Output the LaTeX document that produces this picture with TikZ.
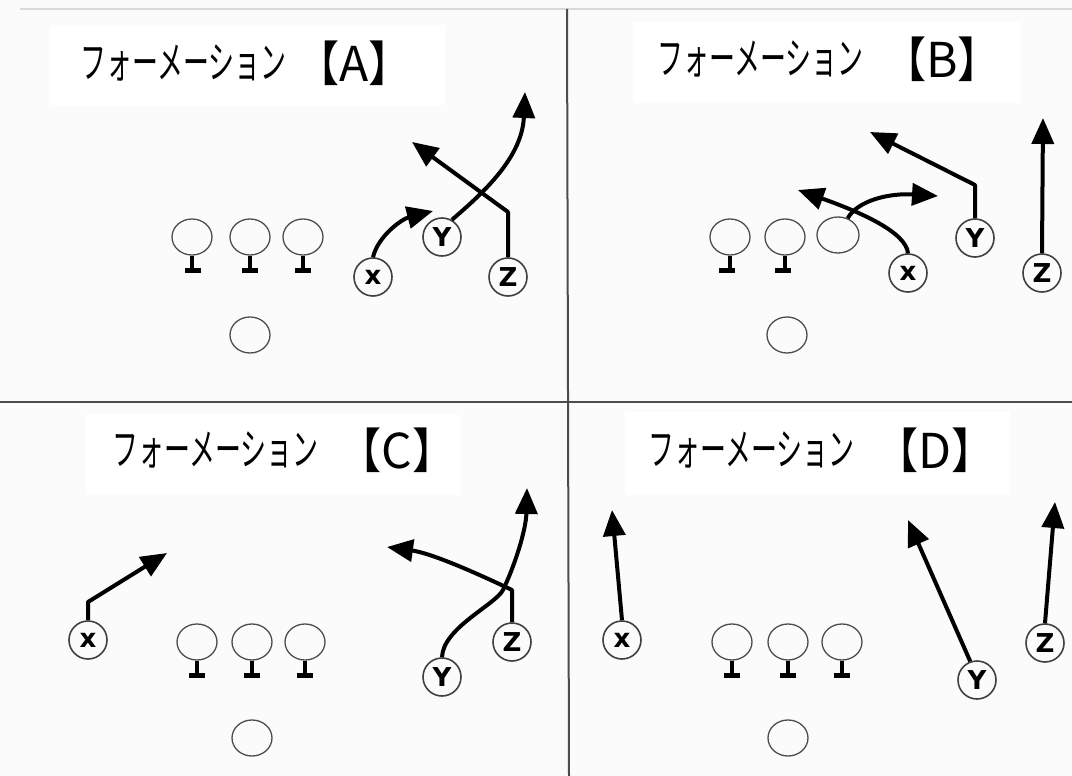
\documentclass[tikz,border=0pt]{standalone}
\usepackage{fontspec}
\newfontfamily\jp{Noto Sans CJK JP}
\newfontfamily\pl{DejaVu Sans}
\usetikzlibrary{arrows.meta,shapes.geometric,calc}
\newcommand\olstem[2]{%
  \draw[stem] (#1.south) -- ++(0,15) coordinate (#1-s);
  \draw[bar] ($(#1-s)+(-8+#2,0)$) -- ++(16,0);}
\newcommand\brtext[1]{\scalebox{0.9}[1]{【}#1\scalebox{0.9}[1]{】}}
\begin{document}
\begin{tikzpicture}[x=1pt,y=-1pt,
  player/.style={circle,draw=black!75,line width=1.6pt,minimum size=38pt,inner sep=0pt,
    font=\pl\bfseries\fontsize{26}{26}\selectfont},
  lman/.style={ellipse,draw=black!70,line width=1.3pt,minimum width=40pt,minimum height=36pt,inner sep=0pt},
  route/.style={line width=4pt,line join=round,-{Triangle[length=26pt,width=22pt]}},
  stem/.style={line width=3.5pt},
  bar/.style={line width=5pt},
  divider/.style={draw=black!70,line width=2pt},
  kana/.style={anchor=west,inner sep=0pt,font=\jp\fontsize{44}{44}\selectfont},
  brk/.style={anchor=west,inner sep=0pt,font=\jp\fontsize{48}{48}\selectfont},
  titlebox/.style={fill=white,draw=none}
]
\useasboundingbox (0,0) rectangle (1072,776);
\fill[black!1.5] (0,0) rectangle (1072,776);
\draw[black!15,line width=1.5pt] (20,9) -- (1072,9);
% title boxes
\fill[titlebox] (50,25) rectangle (445,105);
\fill[titlebox] (633,22) rectangle (1020,103);
\fill[titlebox] (85,415) rectangle (460,495);
\fill[titlebox] (625,412) rectangle (1010,495);
% dividers
\draw[divider] (567,9) -- (569,776);
\draw[divider] (0,402) -- (1072,402);
% titles
\node[kana] (ta) at (80,63) {\scalebox{0.59}[1]{フォーメーション}};
\node[brk] (tab) at (296,63) {\brtext{A}};
\node[kana] (tb) at (657,59) {\scalebox{0.59}[1]{フォーメーション}};
\node[brk] (tbb) at (883,59) {\brtext{B}};
\node[kana] (tc) at (112,450) {\scalebox{0.59}[1]{フォーメーション}};
\node[brk] (tcb) at (338,450) {\brtext{C}};
\node[kana] (td) at (648,450) {\scalebox{0.59}[1]{フォーメーション}};
\node[brk] (tdb) at (875,450) {\brtext{D}};

% ---------- Panel A
\node[lman] (a1) at (192,237) {};
\node[lman] (a2) at (250,237) {};
\node[lman] (a3) at (303,237) {};
\node[lman] (aq) at (250,335) {};
\olstem{a1}{1}\olstem{a2}{0}\olstem{a3}{0}
\node[player] (ax) at (373,277) {x};
\node[player] (ay) at (442,237) {Y};
\node[player] (az) at (508,277) {Z};
\coordinate (axt) at (433,211);
\coordinate (ayt) at (525,92);
\coordinate (azk) at (508,212);
\coordinate (azt) at (412,142);
\draw[route] (ax.north) .. controls (378,236) and (402,219) .. (axt);
\draw[route] (ay.60) .. controls (478,197) and (522,160) .. (ayt);
\draw[route] (az.north) -- (azk) -- (azt);

% ---------- Panel B
\node[lman] (b1) at (730,237) {};
\node[lman] (b2) at (785,237) {};
\node[lman,minimum width=42pt] (b3) at (838,235) {};
\node[lman] (bq) at (787,335) {};
\olstem{b1}{-3}\olstem{b2}{-2}
\node[player] (bx) at (908,273) {x};
\node[player] (by) at (975,238) {Y};
\node[player] (bz) at (1042,273) {Z};
\coordinate (bxt) at (798,190);
\coordinate (b3t) at (938,196);
\coordinate (byk) at (975,185);
\coordinate (byt) at (870,132);
\coordinate (bzt) at (1043,118);
\draw[route] (bx.north) .. controls (906,232) and (860,212) .. (bxt);
\draw[route] (b3.60) .. controls (858,200) and (890,193) .. (b3t);
\draw[route] (by.north) -- (byk) -- (byt);
\draw[route] (bz.north) -- (bzt);

% ---------- Panel C
\node[lman] (c1) at (197,642) {};
\node[lman] (c2) at (252,642) {};
\node[lman] (c3) at (305,642) {};
\node[lman] (cq) at (252,738) {};
\olstem{c1}{0}\olstem{c2}{0}\olstem{c3}{0}
\node[player] (cx) at (88,640) {x};
\node[player] (cy) at (442,677) {Y};
\node[player] (cz) at (512,642) {Z};
\coordinate (cxk) at (88,602);
\coordinate (cxt) at (167,553);
\coordinate (cym) at (503,590);
\coordinate (cyt) at (527,488);
\coordinate (czk) at (512,590);
\coordinate (czt) at (387,547);
\draw[route] (cx.north) -- (cxk) -- (cxt);
\draw[route] (cy.north) .. controls (443,628) and (495,605) .. (cym)
  .. controls (515,565) and (526,530) .. (cyt);
\draw[route] (cz.north) -- (czk) .. controls (470,570) and (430,553) .. (czt);

% ---------- Panel D
\node[lman] (d1) at (732,642) {};
\node[lman] (d2) at (788,642) {};
\node[lman] (d3) at (842,642) {};
\node[lman] (dq) at (788,738) {};
\olstem{d1}{0}\olstem{d2}{0}\olstem{d3}{0}
\node[player] (dx) at (622,640) {x};
\node[player] (dy) at (977,680) {Y};
\node[player] (dz) at (1045,643) {Z};
\coordinate (dxt) at (612,510);
\coordinate (dyt) at (908,520);
\coordinate (dzt) at (1055,502);
\draw[route] (dx.north) -- (dxt);
\draw[route] (dy.110) -- (dyt);
\draw[route] (dz.north) -- (dzt);
\end{tikzpicture}
\end{document}
